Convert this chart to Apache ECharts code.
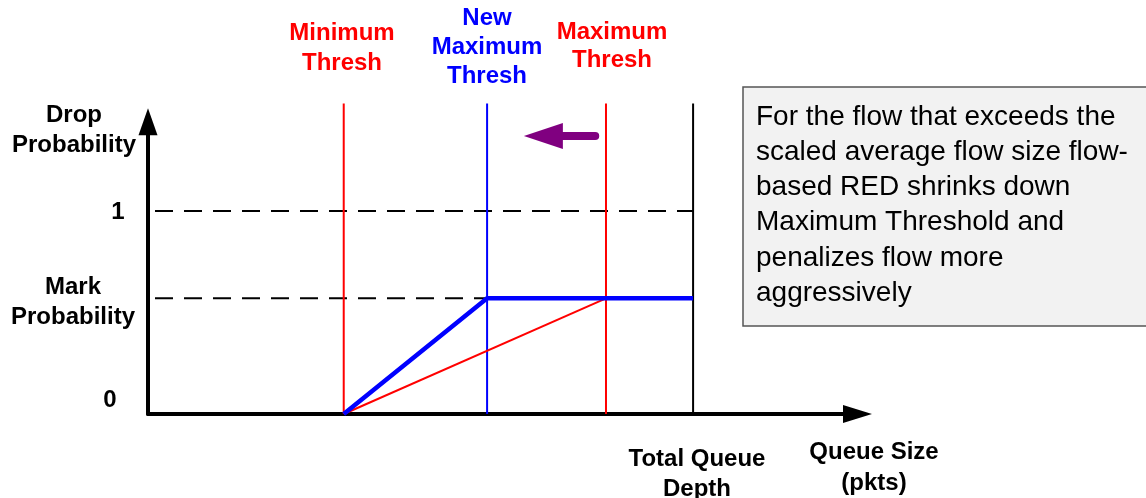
<!DOCTYPE html>
<html>
<head>
<meta charset="utf-8">
<script src="https://cdn.jsdelivr.net/npm/echarts@6/dist/echarts.min.js"></script>
<style>html,body{margin:0;padding:0;background:#fff;}#c{width:1146px;height:498px;}</style>
</head>
<body>
<div id="c"></div>
<script>
// Thresholds on the queue-size axis (abstract units)
var minThresh = 40;
var newMaxThresh = 69.3;
var maxThresh = 93.6;
var totalDepth = 111.4;
// Probability levels
var markProb = 0.57;
var dropProb = 1;
var lineTop = 1.53;
var dashStart = 1.43;
// Purple "shrink" arrow: tail x, shaft end x, head centre x, level
var arrowTailX = 91.4;
var arrowShaftEndX = 82.5;
var arrowHeadX = 80.8;
var arrowY = 1.369;

var FONT = '"Liberation Sans", Arial, sans-serif';
function bold(sz){ return 'bold ' + sz + 'px ' + FONT; }

var chart = echarts.init(document.getElementById('c'), null, {renderer:'canvas'});

function seg(pts, color, width, extra){
  var s = {type:'line', data:pts, showSymbol:false, symbol:'none', clip:false, silent:true,
    lineStyle:{color:color, width:width}, animation:false, z:2};
  if (extra) for (var k in extra) s[k] = extra[k];
  return s;
}

var option = {
  animation:false,
  grid:{left:148, right:288.5, top:121.7, bottom:84, containLabel:false},
  xAxis:{type:'value', min:0, max:145,
    axisLine:{show:true, onZero:false, lineStyle:{color:'#000', width:4}, symbol:['none','triangle'], symbolSize:[18,29]},
    axisTick:{show:false}, axisLabel:{show:false}, splitLine:{show:false}},
  yAxis:{type:'value', min:0, max:1.44,
    axisLine:{show:true, onZero:false, lineStyle:{color:'#000', width:4}, symbol:['none','triangle'], symbolSize:[19,27]},
    axisTick:{show:false}, axisLabel:{show:false}, splitLine:{show:false}},
  series:[
    seg([[dashStart,dropProb],[totalDepth,dropProb]], '#000', 2, {lineStyle:{color:'#000', width:2, type:[18,11]}}),
    seg([[dashStart,markProb],[totalDepth,markProb]], '#000', 2, {lineStyle:{color:'#000', width:2, type:[18,11]}}),
    seg([[minThresh,0],[minThresh,lineTop]], '#ff0000', 2),
    seg([[newMaxThresh,0],[newMaxThresh,lineTop]], '#0000ff', 2),
    seg([[maxThresh,0],[maxThresh,lineTop]], '#ff0000', 2),
    seg([[totalDepth,0],[totalDepth,lineTop]], '#000', 2),
    seg([[minThresh,0],[maxThresh,markProb]], '#ff0000', 2),
    seg([[minThresh,0],[newMaxThresh,markProb],[totalDepth,markProb]], '#0000ff', 4.5, {z:3}),
    seg([[arrowTailX,arrowY],[arrowShaftEndX,arrowY]], '#800080', 8, {lineStyle:{color:'#800080', width:8, cap:'round'}}),
    {type:'scatter', data:[[arrowHeadX, arrowY]], symbol:'triangle', symbolSize:[26,39], symbolRotate:90,
      itemStyle:{color:'#800080', opacity:1}, silent:true, clip:false, z:4}
  ],
  graphic:[
    {type:'text', style:{text:'Drop\nProbability', x:74, y:130, align:'center', verticalAlign:'middle', font:bold(24), lineHeight:30, fill:'#000'}},
    {type:'text', style:{text:'1', x:118, y:212, align:'center', verticalAlign:'middle', font:bold(24), fill:'#000'}},
    {type:'text', style:{text:'Mark\nProbability', x:73, y:302, align:'center', verticalAlign:'middle', font:bold(24), lineHeight:30, fill:'#000'}},
    {type:'text', style:{text:'0', x:110, y:400, align:'center', verticalAlign:'middle', font:bold(24), fill:'#000'}},
    {type:'text', style:{text:'Minimum\nThresh', x:342, y:48, align:'center', verticalAlign:'middle', font:bold(24), lineHeight:30, fill:'#ff0000'}},
    {type:'text', style:{text:'New\nMaximum\nThresh', x:487, y:47, align:'center', verticalAlign:'middle', font:bold(24), lineHeight:29, fill:'#0000ff'}},
    {type:'text', style:{text:'Maximum\nThresh', x:612, y:46, align:'center', verticalAlign:'middle', font:bold(24), lineHeight:28, fill:'#ff0000'}},
    {type:'text', style:{text:'Total Queue\nDepth', x:697, y:474, align:'center', verticalAlign:'middle', font:bold(24), lineHeight:30, fill:'#000'}},
    {type:'text', style:{text:'Queue Size\n(pkts)', x:874, y:468, align:'center', verticalAlign:'middle', font:bold(24), lineHeight:31, fill:'#000'}},
    {type:'rect', shape:{x:743, y:87, width:420, height:239}, style:{fill:'#f2f2f2', stroke:'#555', lineWidth:1.5}},
    {type:'text', style:{text:'For the flow that exceeds the\nscaled average flow size flow-\nbased RED shrinks down\nMaximum Threshold and\npenalizes flow more\naggressively',
      x:756, y:205, align:'left', verticalAlign:'middle', font:'28px ' + FONT, lineHeight:35.2, fill:'#000'}}
  ]
};
chart.setOption(option);
</script>
</body>
</html>
